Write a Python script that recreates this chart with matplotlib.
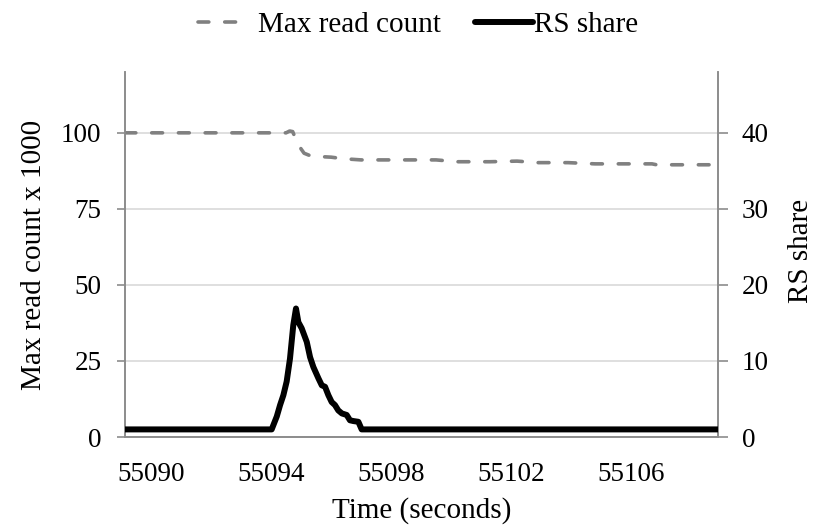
import matplotlib
matplotlib.use("Agg")
import matplotlib.pyplot as plt
from matplotlib.lines import Line2D

# ---- data ----
rs_time = [55089.13, 55094.02, 55094.19, 55094.30, 55094.41, 55094.52, 55094.63,
           55094.74, 55094.83, 55094.91, 55095.02, 55095.19, 55095.30, 55095.41,
           55095.58, 55095.69, 55095.80, 55095.91, 55096.02, 55096.13, 55096.24,
           55096.36, 55096.52, 55096.63, 55096.74, 55096.91, 55097.02, 55108.90]
rs_share = [1.0, 1.0, 2.7, 4.2, 5.5, 7.3, 10.3,
            14.7, 16.9, 15.1, 14.3, 12.5, 10.5, 9.2,
            7.7, 6.8, 6.6, 5.5, 4.6, 4.2, 3.5,
            3.1, 2.9, 2.2, 2.1, 2.0, 1.0, 1.0]

mrc_time = [55089.13, 55094.50, 55094.62, 55094.72, 55094.80, 55095.00, 55095.10,
            55095.30, 55095.60, 55096.00, 55096.40, 55097.00, 55099.50, 55100.20,
            55101.30, 55102.20, 55102.90, 55103.90, 55104.80, 55106.70, 55106.85,
            55108.60]
max_read_count = [100.0, 100.0, 100.6, 100.4, 98.5, 94.7, 93.3,
                  92.5, 92.2, 92.0, 91.5, 91.1, 91.1, 90.5,
                  90.5, 90.7, 90.2, 90.2, 89.8, 89.8, 89.5,
                  89.5]

x_ticks = [55090, 55094, 55098, 55102, 55106]
left_ticks = [0, 25, 50, 75, 100]
right_ticks = [0, 10, 20, 30, 40]

# ---- style ----
plt.rcParams['font.family'] = ['Liberation Serif', 'DejaVu Serif']
FS = 19.5      # tick labels
FT = 21        # titles and legend
spine_c = '#8c8c8c'
grid_c = '#d9d9d9'
DASH = (0, (3.0, 4.4))

fig = plt.figure(figsize=(8.18, 5.29), dpi=100)
ax = fig.add_axes([0.1528, 0.1739, 0.7250, 0.6900])
ax2 = ax.twinx()

ax.set_xlim(55089.13, 55108.9)
ax.set_ylim(0, 120)
ax2.set_ylim(0, 48)

ax.set_yticks(left_ticks)
ax2.set_yticks(right_ticks)
ax.set_xticks(x_ticks)
ax.set_xticklabels([str(v) for v in x_ticks])

for a in (ax, ax2):
    for s in a.spines.values():
        s.set_color(spine_c)
        s.set_linewidth(1.2)
    a.spines['top'].set_visible(False)

ax.grid(axis='y', color=grid_c, linewidth=1.2)
ax.set_axisbelow(True)

ax.tick_params(axis='y', direction='out', length=6, width=1.2, color=spine_c,
               labelsize=FS, pad=11)
ax2.tick_params(axis='y', direction='out', length=7, width=1.2, color=spine_c,
                labelsize=FS, pad=10)
ax.tick_params(axis='x', length=0, labelsize=FS, pad=18)

ax.plot(mrc_time, max_read_count, color='#808080', linewidth=2.6,
        linestyle=DASH, dash_capstyle='round', dash_joinstyle='round', zorder=3)
ax2.plot(rs_time, rs_share, color='black', linewidth=4.3,
         solid_joinstyle='round', solid_capstyle='round', zorder=4)

ax.set_xlabel('Time (seconds)', fontsize=FT, labelpad=7)
ax.set_ylabel('Max read count x 1000', fontsize=FT)
ax.yaxis.set_label_coords(-0.132, 0.5)
ax2.set_ylabel('RS share', fontsize=FT)
ax2.yaxis.set_label_coords(1.118, 0.51)

h1 = Line2D([], [], color='#808080', linewidth=2.6, linestyle=DASH, dash_capstyle='round')
h2 = Line2D([], [], color='black', linewidth=4.3, solid_capstyle='round')
fig.legend([h1], ['Max read count'], loc='center left',
           bbox_to_anchor=(0.2095, 0.953), frameon=False, fontsize=FT,
           handlelength=1.45, handletextpad=0.62)
fig.legend([h2], ['RS share'], loc='center left',
           bbox_to_anchor=(0.549, 0.953), frameon=False, fontsize=FT,
           handlelength=1.97, handletextpad=0.05)

fig.savefig('out.png', dpi=100)
